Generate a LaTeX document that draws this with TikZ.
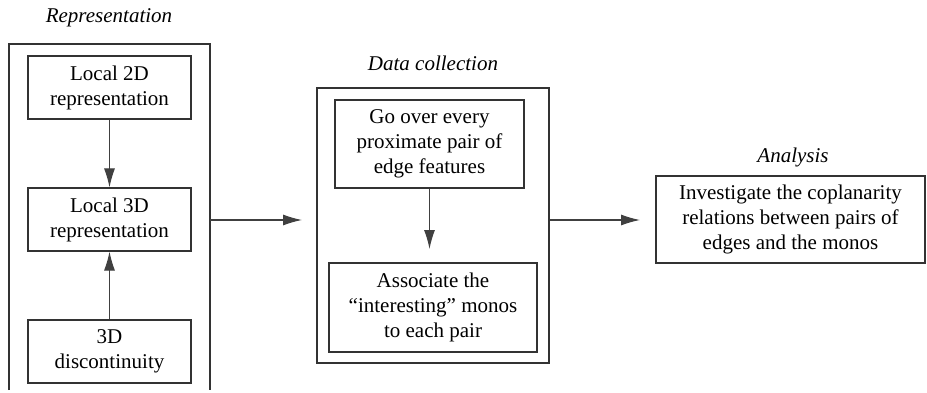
\documentclass[tikz,border=0pt]{standalone}
\usepackage{fontspec}
\setmainfont{Liberation Serif}
\usetikzlibrary{arrows.meta}
\tikzset{
  boxline/.style={draw=black!80, line width=1.1pt},
  stepbox/.style={boxline, align=center, inner sep=0pt, font=\fontsize{21}{25}\selectfont},
  titletext/.style={font=\fontsize{21}{25}\selectfont\itshape, inner sep=0pt},
  arr/.style={draw=black!75, line width=1.1pt, -{Latex[length=19pt,width=11pt]}}
}
\begin{document}
\begin{tikzpicture}[x=1pt,y=-1pt]
\useasboundingbox (0,0) rectangle (927,393);
% Representation group
\node[titletext] (replabel) at (109,18) {Representation};
\coordinate (repBL) at (9,390);
\coordinate (repTL) at (9,44);
\coordinate (repTR) at (210,44);
\coordinate (repBR) at (210,390);
\draw[boxline] (repBL) -- (repTL) -- (repTR) -- (repBR);
\node[stepbox, minimum width=163pt, minimum height=63pt] (l2d) at (109.5,87.5) {Local 2D\\representation};
\node[stepbox, minimum width=163pt, minimum height=63pt] (l3d) at (109.5,219.5) {Local 3D\\representation};
\node[stepbox, minimum width=163pt, minimum height=63pt] (disc) at (109.5,351.5) {3D\\discontinuity};
\draw[arr] (l2d) -- (l3d);
\draw[arr] (disc) -- (l3d);
% Data collection group
\node[titletext] (datalabel) at (433,63) {Data collection};
\node[boxline, minimum width=232pt, minimum height=275pt, inner sep=0pt] (data) at (433,225.5) {};
\node[stepbox, minimum width=189pt, minimum height=88pt] (goover) at (429.5,144) {Go over every\\proximate pair of\\edge features};
\node[stepbox, minimum width=208pt, minimum height=89pt] (assoc) at (433,307.5) {Associate the\\“interesting” monos\\to each pair};
\coordinate (associn) at (429.5,249);
\draw[arr] (goover.south) -- (associn);
% Analysis group
\node[titletext] (analabel) at (793,157) {Analysis};
\node[stepbox, minimum width=269pt, minimum height=87pt] (ana) at (790.5,219.5) {Investigate the coplanarity\\relations between pairs of\\edges and the monos};
% connectors between groups
\coordinate (repout) at (210,220);
\coordinate (datain) at (302,220);
\coordinate (anain) at (640,220);
\draw[arr] (repout) -- (datain);
\draw[arr] (data.east |- anain) -- (anain);
\end{tikzpicture}
\end{document}
